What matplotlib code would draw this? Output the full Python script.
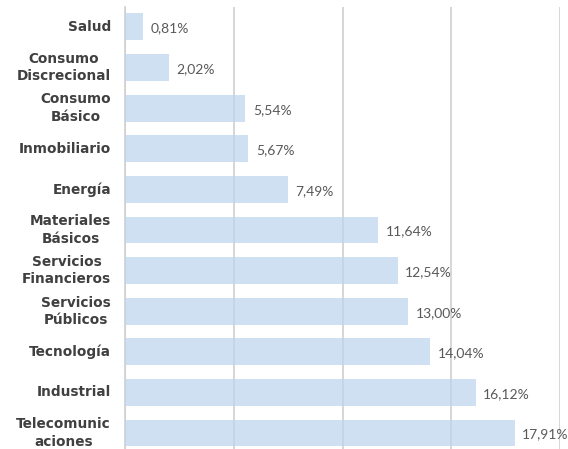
import matplotlib.pyplot as plt

categories = ["Salud", "Consumo\nDiscrecional", "Consumo\nBásico", "Inmobiliario", "Energía",
              "Materiales\nBásicos", "Servicios\nFinancieros", "Servicios\nPúblicos", "Tecnología",
              "Industrial", "Telecomunic\naciones"]
values = [0.81, 2.02, 5.54, 5.67, 7.49, 11.64, 12.54, 13.00, 14.04, 16.12, 17.91]
labels = ["0,81%", "2,02%", "5,54%", "5,67%", "7,49%", "11,64%", "12,54%", "13,00%", "14,04%",
          "16,12%", "17,91%"]

plt.rcParams["font.family"] = ["Lato", "DejaVu Sans"]

fig = plt.figure(figsize=(5.68, 4.49), dpi=100)
ax = fig.add_axes([125 / 568, 0, 435 / 568, 442 / 449])

pos = list(range(len(categories)))
ax.barh(pos, values, height=0.66, color="#BDD5EE", alpha=0.72, zorder=3)
ax.set_ylim(10.394, -0.49)
ax.set_xlim(0, 20)
ax.set_xticks([0, 5, 10, 15, 20])
ax.xaxis.grid(True, color="#D0D0D0", linewidth=1.2, zorder=1)
ax.tick_params(axis="x", length=0, labelbottom=False)
ax.tick_params(axis="y", length=0, pad=10)

ax.set_yticks(pos)
ax.set_yticklabels(categories, fontsize=9.8, fontweight="bold", color="#404040",
                   family="DejaVu Sans", multialignment="center", linespacing=1.3)
for lab in ax.get_yticklabels():
    lab.set_verticalalignment("center")

for s in ["top", "right", "bottom"]:
    ax.spines[s].set_visible(False)
ax.spines["left"].set_color("#D0D0D0")
ax.spines["left"].set_linewidth(1.2)

for p, v, t in zip(pos, values, labels):
    ax.text(v + 0.35, p + 0.04, t, va="center", ha="left", fontsize=10, color="#595959", zorder=4)

fig.savefig("out.png", dpi=100)
